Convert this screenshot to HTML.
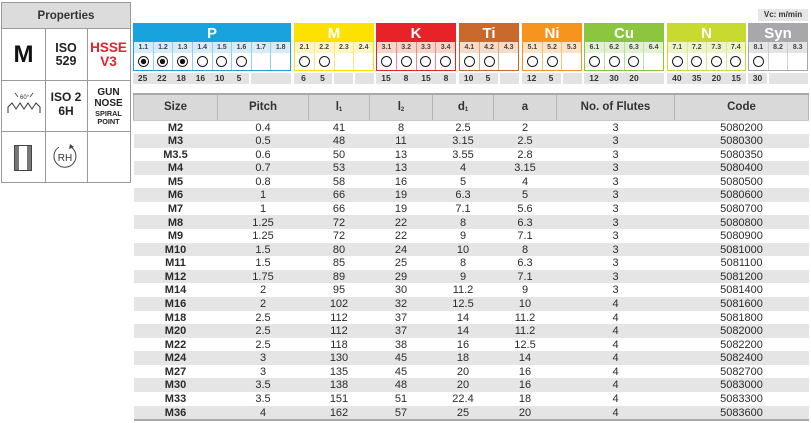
<!DOCTYPE html>
<html><head><meta charset="utf-8">
<style>
*{margin:0;padding:0;box-sizing:border-box}
body{width:811px;height:423px;background:#fff;position:relative;overflow:hidden;font-family:"Liberation Sans",Arial,sans-serif;color:#222}
.abs{position:absolute}
#prop{left:1px;top:2px;width:130px;height:181px;border:1px solid #9a9a9a}
.ph{position:absolute;left:0;top:0;width:128px;height:26px;background:#dcdcdc;border-bottom:1px solid #9a9a9a;font-weight:bold;font-size:11.5px;text-align:center;line-height:26px;color:#333}
.vl{position:absolute;width:1px;background:#9a9a9a}
.hl{position:absolute;height:1px;background:#9a9a9a}
.ct{position:absolute;text-align:center;font-weight:bold}
.blk{position:absolute;top:23px;height:48px;border:1px solid}
.bh{height:18px;color:#fff;font-weight:bold;font-size:15px;text-align:center;line-height:19px}
.bs,.bc{display:flex}
.bs{height:11px}
.bc{height:17px;background:#fff}
.bs div,.bc div{flex:1;text-align:center}
.bs div{font-size:7px;font-weight:bold;color:#444;line-height:11px}
.bs div+div,.bc div+div{border-left:1px solid}
.c{display:inline-block;width:11px;height:11px;border:1.3px solid #1a1a1a;border-radius:50%;margin-top:3px}
.f{background:radial-gradient(circle,#111 0 2.4px,#fff 2.9px)}
.vc{position:absolute;top:73px;height:11px;display:flex}
.vc div{flex:1;background:#e3e3e3;font-size:8.5px;font-weight:bold;color:#333;text-align:center;line-height:11px}
.vc div.e{border-left:2px solid #fff}
table{position:absolute;left:133px;top:93px;width:675px;border-collapse:collapse;table-layout:fixed}
th{height:26px;background:#d9d9d9;font-size:11.5px;font-weight:bold;color:#333;border-top:2px solid #a8a8a8;border-left:1px solid #b5b5b5;border-right:1px solid #b5b5b5;border-bottom:1px solid #c8c8c8}
td{height:13.59px;font-size:11px;text-align:center;color:#2b2b2b;padding:1px 0 0 0;line-height:12.5px}
td:first-child{font-weight:bold}
tr.g td{background:#e5e5e5}
tr.last td{border-bottom:2px solid #a8a8a8}
sub{font-size:6px;vertical-align:-1px}
</style></head><body>

<div id="prop" class="abs">
  <div class="ph">Properties</div>
  <div class="vl" style="left:43px;top:26px;height:153px"></div>
  <div class="vl" style="left:85px;top:26px;height:153px"></div>
  <div class="hl" style="left:0;top:77px;width:128px"></div>
  <div class="hl" style="left:0;top:128px;width:128px"></div>
  <div class="ct" style="left:0;top:38px;width:43px;font-size:24px;color:#111;line-height:28px">M</div>
  <div class="ct" style="left:43px;top:39px;width:42px;font-size:12.5px;line-height:13px;color:#222">ISO<br>529</div>
  <div class="ct" style="left:85px;top:38px;width:43px;font-size:13.5px;line-height:14px;color:#e8212a">HSSE<br>V3</div>
  <div class="ct" style="left:43px;top:88px;width:42px;font-size:12px;line-height:13.5px;color:#222">ISO 2<br>6H</div>
  <div class="ct" style="left:85px;top:85px;width:43px;font-size:10px;line-height:10.5px;color:#222">GUN<br>NOSE</div>
  <div class="ct" style="left:85px;top:107px;width:43px;font-size:7.3px;line-height:8px;color:#222">SPIRAL<br>POINT</div>
</div>
<svg class="abs" style="left:0;top:0" width="135" height="185">
  <text x="20" y="99" font-family="Liberation Sans" font-size="6" fill="#333">60°</text>
  <line x1="15" y1="93" x2="18" y2="97" stroke="#333" stroke-width="0.8"/>
  <line x1="33" y1="93" x2="30" y2="97" stroke="#333" stroke-width="0.8"/>
  <polyline points="8,113 8,107 12,103 16,109 20,103 24,109 28,103 32,109 36,103 40,107 40,113" fill="none" stroke="#333" stroke-width="1"/>
  <rect x="14.5" y="145.5" width="17" height="25" fill="#fff" stroke="#444" stroke-width="1"/>
  <rect x="15" y="146" width="4" height="24" fill="#777"/>
  <rect x="27" y="146" width="4" height="24" fill="#777"/>
  <path d="M70 146.5 A11 11 0 1 1 59 147" fill="none" stroke="#444" stroke-width="1"/>
  <polygon points="70,144 74,147 69,149" fill="#444"/>
  <text x="65" y="161" text-anchor="middle" font-family="Liberation Sans" font-size="10" fill="#333">RH</text>
</svg>

<div class="abs" style="left:758px;top:9px;width:50px;height:12px;background:#e6e6e6;font-size:8px;font-weight:bold;color:#333;text-align:center;line-height:12px">Vc: m/min</div>

<div class="blk" style="left:133px;width:158px;border-color:#18a3df">
  <div class="bh" style="background:#18a3df">P</div>
  <div class="bs" style="background:#d6ecf9"><div style="border-color:#8fd0ef">1.1</div><div style="border-color:#8fd0ef">1.2</div><div style="border-color:#8fd0ef">1.3</div><div style="border-color:#8fd0ef">1.4</div><div style="border-color:#8fd0ef">1.5</div><div style="border-color:#8fd0ef">1.6</div><div style="border-color:#8fd0ef">1.7</div><div style="border-color:#8fd0ef">1.8</div></div>
  <div class="bc"><div style="border-color:#8fd0ef"><span class="c f"></span></div><div style="border-color:#8fd0ef"><span class="c f"></span></div><div style="border-color:#8fd0ef"><span class="c f"></span></div><div style="border-color:#8fd0ef"><span class="c"></span></div><div style="border-color:#8fd0ef"><span class="c"></span></div><div style="border-color:#8fd0ef"><span class="c"></span></div><div style="border-color:#8fd0ef"></div><div style="border-color:#8fd0ef"></div></div>
</div>
<div class="vc" style="left:133px;width:158px"><div>25</div><div>22</div><div>18</div><div>16</div><div>10</div><div>5</div><div class="e" style="flex:2.1"></div></div>

<div class="blk" style="left:294px;width:80px;border-color:#fde100">
  <div class="bh" style="background:#fde100">M</div>
  <div class="bs" style="background:#fff6c4"><div style="border-color:#fbe97a">2.1</div><div style="border-color:#fbe97a">2.2</div><div style="border-color:#fbe97a">2.3</div><div style="border-color:#fbe97a">2.4</div></div>
  <div class="bc"><div style="border-color:#fbe97a"><span class="c"></span></div><div style="border-color:#fbe97a"><span class="c"></span></div><div style="border-color:#fbe97a"></div><div style="border-color:#fbe97a"></div></div>
</div>
<div class="vc" style="left:294px;width:80px"><div>6</div><div>5</div><div class="e"></div><div class="e"></div></div>

<div class="blk" style="left:376px;width:80px;border-color:#e82229">
  <div class="bh" style="background:#e82229">K</div>
  <div class="bs" style="background:#fbd3c8"><div style="border-color:#f08a86">3.1</div><div style="border-color:#f08a86">3.2</div><div style="border-color:#f08a86">3.3</div><div style="border-color:#f08a86">3.4</div></div>
  <div class="bc"><div style="border-color:#f08a86"><span class="c"></span></div><div style="border-color:#f08a86"><span class="c"></span></div><div style="border-color:#f08a86"><span class="c"></span></div><div style="border-color:#f08a86"><span class="c"></span></div></div>
</div>
<div class="vc" style="left:376px;width:80px"><div>15</div><div>8</div><div>15</div><div>8</div></div>

<div class="blk" style="left:459px;width:60px;border-color:#c96a2c">
  <div class="bh" style="background:#c96a2c">Ti</div>
  <div class="bs" style="background:#f4dccb"><div style="border-color:#dfa57f">4.1</div><div style="border-color:#dfa57f">4.2</div><div style="border-color:#dfa57f">4.3</div></div>
  <div class="bc"><div style="border-color:#dfa57f"><span class="c"></span></div><div style="border-color:#dfa57f"><span class="c"></span></div><div style="border-color:#dfa57f"></div></div>
</div>
<div class="vc" style="left:459px;width:60px"><div>10</div><div>5</div><div class="e"></div></div>

<div class="blk" style="left:522px;width:60px;border-color:#f7941e">
  <div class="bh" style="background:#f7941e">Ni</div>
  <div class="bs" style="background:#fde2c4"><div style="border-color:#fac07a">5.1</div><div style="border-color:#fac07a">5.2</div><div style="border-color:#fac07a">5.3</div></div>
  <div class="bc"><div style="border-color:#fac07a"><span class="c"></span></div><div style="border-color:#fac07a"><span class="c"></span></div><div style="border-color:#fac07a"></div></div>
</div>
<div class="vc" style="left:522px;width:60px"><div>12</div><div>5</div><div class="e"></div></div>

<div class="blk" style="left:584px;width:80px;border-color:#8cc63f">
  <div class="bh" style="background:#8cc63f">Cu</div>
  <div class="bs" style="background:#e4f0d2"><div style="border-color:#bfdf95">6.1</div><div style="border-color:#bfdf95">6.2</div><div style="border-color:#bfdf95">6.3</div><div style="border-color:#bfdf95">6.4</div></div>
  <div class="bc"><div style="border-color:#bfdf95"><span class="c"></span></div><div style="border-color:#bfdf95"><span class="c"></span></div><div style="border-color:#bfdf95"><span class="c"></span></div><div style="border-color:#bfdf95"></div></div>
</div>
<div class="vc" style="left:584px;width:80px"><div>12</div><div>30</div><div>20</div><div></div></div>

<div class="blk" style="left:667px;width:79px;border-color:#c8d92f">
  <div class="bh" style="background:#c8d92f">N</div>
  <div class="bs" style="background:#eff4c7"><div style="border-color:#dfe98a">7.1</div><div style="border-color:#dfe98a">7.2</div><div style="border-color:#dfe98a">7.3</div><div style="border-color:#dfe98a">7.4</div></div>
  <div class="bc"><div style="border-color:#dfe98a"><span class="c"></span></div><div style="border-color:#dfe98a"><span class="c"></span></div><div style="border-color:#dfe98a"><span class="c"></span></div><div style="border-color:#dfe98a"><span class="c"></span></div></div>
</div>
<div class="vc" style="left:667px;width:79px"><div>40</div><div>35</div><div>20</div><div>15</div></div>

<div class="blk" style="left:748px;width:60px;border-color:#a6a8ab">
  <div class="bh" style="background:#a6a8ab">Syn</div>
  <div class="bs" style="background:#e4e4e4"><div style="border-color:#cfcfd0">8.1</div><div style="border-color:#cfcfd0">8.2</div><div style="border-color:#cfcfd0">8.3</div></div>
  <div class="bc"><div style="border-color:#cfcfd0"><span class="c"></span></div><div style="border-color:#cfcfd0"></div><div style="border-color:#cfcfd0"></div></div>
</div>
<div class="vc" style="left:748px;width:60px"><div>30</div><div class="e" style="flex:2.05"></div></div>

<table>
<colgroup><col style="width:84px"><col style="width:91px"><col style="width:61px"><col style="width:63px"><col style="width:61px"><col style="width:63px"><col style="width:118px"><col style="width:134px"></colgroup>
<tr><th>Size</th><th>Pitch</th><th>l<sub>1</sub></th><th>l<sub>2</sub></th><th>d<sub>1</sub></th><th>a</th><th>No. of Flutes</th><th>Code</th></tr>
<tr><td>M2</td><td>0.4</td><td>41</td><td>8</td><td>2.5</td><td>2</td><td>3</td><td>5080200</td></tr>
<tr class="g"><td>M3</td><td>0.5</td><td>48</td><td>11</td><td>3.15</td><td>2.5</td><td>3</td><td>5080300</td></tr>
<tr><td>M3.5</td><td>0.6</td><td>50</td><td>13</td><td>3.55</td><td>2.8</td><td>3</td><td>5080350</td></tr>
<tr class="g"><td>M4</td><td>0.7</td><td>53</td><td>13</td><td>4</td><td>3.15</td><td>3</td><td>5080400</td></tr>
<tr><td>M5</td><td>0.8</td><td>58</td><td>16</td><td>5</td><td>4</td><td>3</td><td>5080500</td></tr>
<tr class="g"><td>M6</td><td>1</td><td>66</td><td>19</td><td>6.3</td><td>5</td><td>3</td><td>5080600</td></tr>
<tr><td>M7</td><td>1</td><td>66</td><td>19</td><td>7.1</td><td>5.6</td><td>3</td><td>5080700</td></tr>
<tr class="g"><td>M8</td><td>1.25</td><td>72</td><td>22</td><td>8</td><td>6.3</td><td>3</td><td>5080800</td></tr>
<tr><td>M9</td><td>1.25</td><td>72</td><td>22</td><td>9</td><td>7.1</td><td>3</td><td>5080900</td></tr>
<tr class="g"><td>M10</td><td>1.5</td><td>80</td><td>24</td><td>10</td><td>8</td><td>3</td><td>5081000</td></tr>
<tr><td>M11</td><td>1.5</td><td>85</td><td>25</td><td>8</td><td>6.3</td><td>3</td><td>5081100</td></tr>
<tr class="g"><td>M12</td><td>1.75</td><td>89</td><td>29</td><td>9</td><td>7.1</td><td>3</td><td>5081200</td></tr>
<tr><td>M14</td><td>2</td><td>95</td><td>30</td><td>11.2</td><td>9</td><td>3</td><td>5081400</td></tr>
<tr class="g"><td>M16</td><td>2</td><td>102</td><td>32</td><td>12.5</td><td>10</td><td>4</td><td>5081600</td></tr>
<tr><td>M18</td><td>2.5</td><td>112</td><td>37</td><td>14</td><td>11.2</td><td>4</td><td>5081800</td></tr>
<tr class="g"><td>M20</td><td>2.5</td><td>112</td><td>37</td><td>14</td><td>11.2</td><td>4</td><td>5082000</td></tr>
<tr><td>M22</td><td>2.5</td><td>118</td><td>38</td><td>16</td><td>12.5</td><td>4</td><td>5082200</td></tr>
<tr class="g"><td>M24</td><td>3</td><td>130</td><td>45</td><td>18</td><td>14</td><td>4</td><td>5082400</td></tr>
<tr><td>M27</td><td>3</td><td>135</td><td>45</td><td>20</td><td>16</td><td>4</td><td>5082700</td></tr>
<tr class="g"><td>M30</td><td>3.5</td><td>138</td><td>48</td><td>20</td><td>16</td><td>4</td><td>5083000</td></tr>
<tr><td>M33</td><td>3.5</td><td>151</td><td>51</td><td>22.4</td><td>18</td><td>4</td><td>5083300</td></tr>
<tr class="g last"><td>M36</td><td>4</td><td>162</td><td>57</td><td>25</td><td>20</td><td>4</td><td>5083600</td></tr>
</table>
</body></html>
